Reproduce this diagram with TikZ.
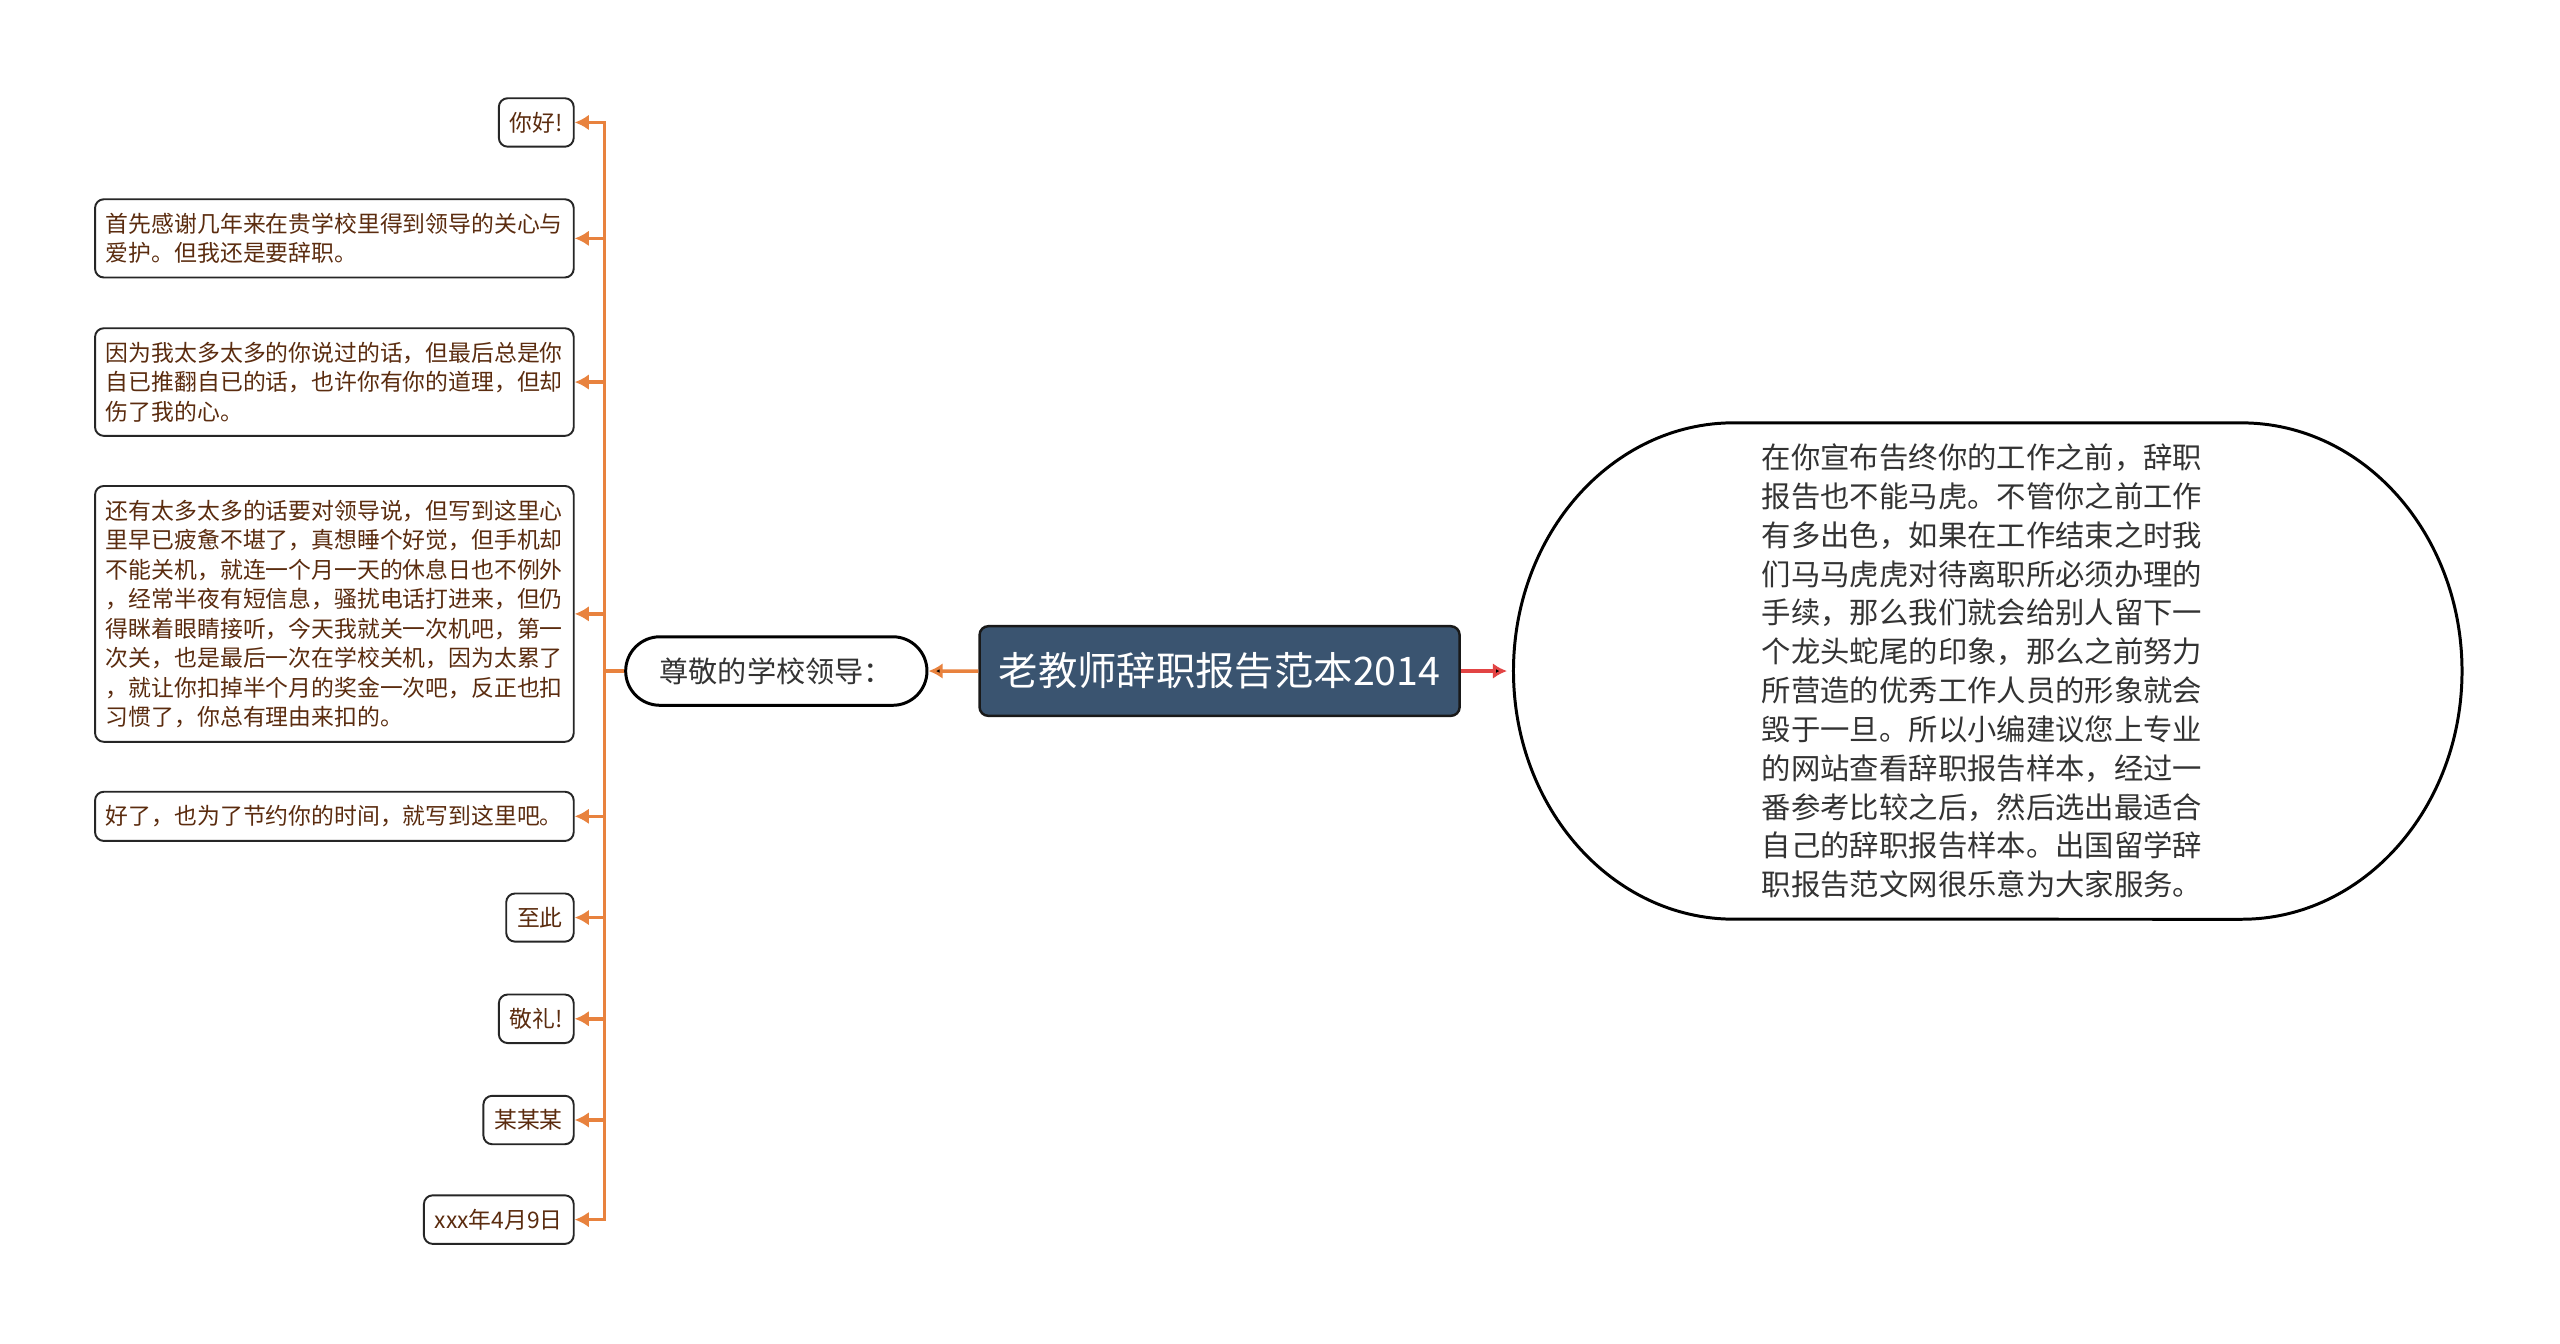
\documentclass[tikz,border=0pt]{standalone}
\usepackage{fontspec}
\newfontfamily\cjk{Noto Sans CJK SC}
\usetikzlibrary{shapes}
\usetikzlibrary{shapes.misc}
\usetikzlibrary{arrows.meta}
\definecolor{branchorange}{HTML}{E8823E}
\definecolor{rootblue}{HTML}{3A5470}
\definecolor{leafbrown}{HTML}{5B2C0F}
\definecolor{linkred}{HTML}{E24444}
\definecolor{textgray}{HTML}{333333}

\begin{document}
\begin{tikzpicture}[x=0.016327cm, y=0.016327cm]

\tikzstyle{leaf}=[rectangle, rounded corners=2.5pt, draw=black!85, line width=0.55pt, fill=white, anchor=east, align=left, inner xsep=3.1pt, inner ysep=3.9pt, font=\cjk\fontsize{6.5}{8.4}\selectfont, text=leafbrown]
\tikzstyle{root}=[rectangle, rounded corners=2.5pt, draw=black!90, line width=0.7pt, fill=rootblue, text=white, minimum width=136.6pt, minimum height=25.5pt, font=\cjk\fontsize{11.2}{13}\selectfont]
\tikzstyle{greeting}=[rounded rectangle, draw=black, line width=0.85pt, fill=white, text=textgray, minimum width=92.4pt, minimum height=19.5pt, font=\cjk\fontsize{8.3}{10}\selectfont]
\tikzstyle{detail}=[minimum width=269.9pt, minimum height=141.2pt, align=left, text=textgray, font=\cjk\fontsize{8.35}{11.05}\selectfont]
\tikzstyle{bubble}=[draw=black, line width=0.85pt]

\tikzstyle{connect}=[-{Latex[length=4pt,width=4.4pt]}, line width=1pt, draw=branchorange]
\tikzstyle{redconnect}=[-{Latex[length=4pt,width=4.4pt]}, line width=1pt, draw=linkred]

\useasboundingbox (0,0) rectangle (1568,-823);
\fill[white] (0,0) rectangle (1568,-823);

\node[root] (title) at (747,-411) {老教师辞职报告范本2014};
\node[greeting] (greet) at (475.5,-411) {尊敬的学校领导：};
\node[detail] (detail) at (1214,-411) {在你宣布告终你的工作之前，辞职\\报告也不能马虎。不管你之前工作\\有多出色，如果在工作结束之时我\\们马马虎虎对待离职所必须办理的\\手续，那么我们就会给别人留下一\\个龙头蛇尾的印象，那么之前努力\\所营造的优秀工作人员的形象就会\\毁于一旦。所以小编建议您上专业\\的网站查看辞职报告样本，经过一\\番参考比较之后，然后选出最适合\\自己的辞职报告样本。出国留学辞\\职报告范文网很乐意为大家服务。};

\draw[bubble] (1062,-259) -- (1373,-259)
  arc[start angle=90, end angle=-90, x radius=2.204cm, y radius=2.482cm]
  -- (1062,-563)
  arc[start angle=270, end angle=90, x radius=2.204cm, y radius=2.482cm] -- cycle;

\node[leaf] (hello) at (352,-75) {你好!};
\node[leaf] (thanks) at (352,-146) {首先感谢几年来在贵学校里得到领导的关心与\\爱护。但我还是要辞职。};
\node[leaf] (because) at (352,-234) {因为我太多太多的你说过的话，但最后总是你\\自已推翻自已的话，也许你有你的道理，但却\\伤了我的心。};
\node[leaf] (tired) at (352,-376) {还有太多太多的话要对领导说，但写到这里心\\里早已疲惫不堪了，真想睡个好觉，但手机却\\不能关机，就连一个月一天的休息日也不例外\\，经常半夜有短信息，骚扰电话打进来，但仍\\得眯着眼睛接听，今天我就关一次机吧，第一\\次关，也是最后一次在学校关机，因为太累了\\，就让你扣掉半个月的奖金一次吧，反正也扣\\习惯了，你总有理由来扣的。};
\node[leaf] (enough) at (352,-500) {好了，也为了节约你的时间，就写到这里吧。};
\node[leaf] (sofar) at (352,-562) {至此};
\node[leaf] (salute) at (352,-624) {敬礼!};
\node[leaf] (signer) at (352,-686) {某某某};
\node[leaf] (date) at (352,-747) {xxx年4月9日};

\path (title) [connect] edge (greet);
\path (title) [redconnect] edge (detail);

\foreach \leafname in {hello, thanks, because, tired, enough, sofar, salute, signer, date}
  \draw[connect] (greet.west) -- ++(-12,0) |- (\leafname.east);

\end{tikzpicture}
\end{document}
